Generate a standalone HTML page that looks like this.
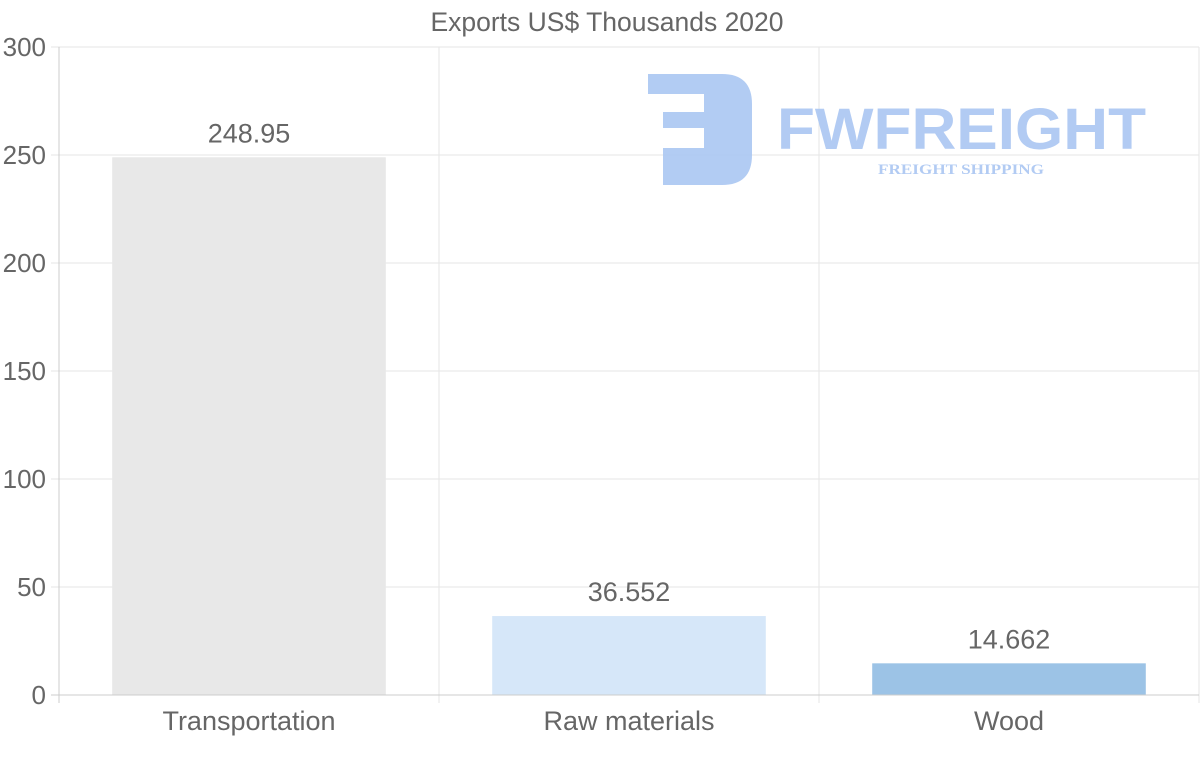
<!DOCTYPE html>
<html><head><meta charset="utf-8"><style>
body{margin:0;background:#fff;}
svg text{font-family:"Liberation Sans",sans-serif;}
</style></head><body>
<svg id="chart" width="1200" height="763" xmlns="http://www.w3.org/2000/svg">
<text x="607" y="31" text-anchor="middle" font-size="26.5" fill="#666">Exports US$ Thousands 2020</text>
<g id="grid"></g>
<g id="logo" opacity="0.9">
<path d="M648,74 H722 Q752,74 752,104 V155 Q752,185 722,185 H663 V148 H704 V128 H663 V112 H704 V94 H648 Z" fill="#aac6f2"/>
<text x="777" y="149" font-size="58" font-weight="bold" fill="#aac6f2" textLength="369" lengthAdjust="spacingAndGlyphs">FWFREIGHT</text>
<text x="878" y="174" font-size="15" font-weight="bold" fill="#aac6f2" style="font-family:'Liberation Serif',serif" textLength="166" lengthAdjust="spacingAndGlyphs">FREIGHT SHIPPING</text>
</g>
<g id="bars"></g>
<g id="axes"></g>
</svg>
<script>
const categories=["Transportation","Raw materials","Wood"];
const values=[248.95,36.552,14.662];
const valueLabels=["248.95","36.552","14.662"];
const yTicks=[0,50,100,150,200,250,300];
const colors=["#e8e8e8","#d6e7f9","#9cc3e6"];
const NS="http://www.w3.org/2000/svg";
const L=59,R=1199,T=47,B=695,yMax=300;
const y=v=>B-(v/yMax)*(B-T);
const bw=(R-L)/categories.length;
const x=i=>L+i*bw;
function mk(t,a,p){const e=document.createElementNS(NS,t);for(const k in a)e.setAttribute(k,a[k]);p.appendChild(e);return e;}
const grid=document.getElementById('grid'),bars=document.getElementById('bars'),axes=document.getElementById('axes');
yTicks.forEach(t=>{
 const l=mk('line',{x1:51,x2:R,y1:y(t),y2:y(t),stroke:t===0?'#ccc':'#e6e6e6','stroke-width':1},t===0?axes:grid);
 
 
 const tx=mk('text',{x:46,y:y(t)+9,'text-anchor':'end','font-size':26,fill:'#666'},axes);
 tx.textContent=t;
 
 
});
for(let i=0;i<=categories.length;i++){
 const l=mk('line',{x1:x(i),x2:x(i),y1:T,y2:B+8,stroke:i===0?'#ccc':'#e6e6e6','stroke-width':1},i===0?axes:grid);
 
 
}
categories.forEach((c,i)=>{
 const w=bw*0.72,bx=x(i)+(bw-w)/2;
 const r=mk('rect',{x:bx,y:y(values[i]),width:w,height:B-y(values[i]),fill:colors[i]},bars);
 
 
 const vl=mk('text',{x:x(i)+bw/2,y:y(values[i])-15,'text-anchor':'middle','font-size':27,fill:'#666'},bars);
 vl.textContent=valueLabels[i];
 
 
 const cl=mk('text',{x:x(i)+bw/2,y:730,'text-anchor':'middle','font-size':27,fill:'#666'},axes);
 cl.textContent=c;
 
 
});
</script>
</body></html>
